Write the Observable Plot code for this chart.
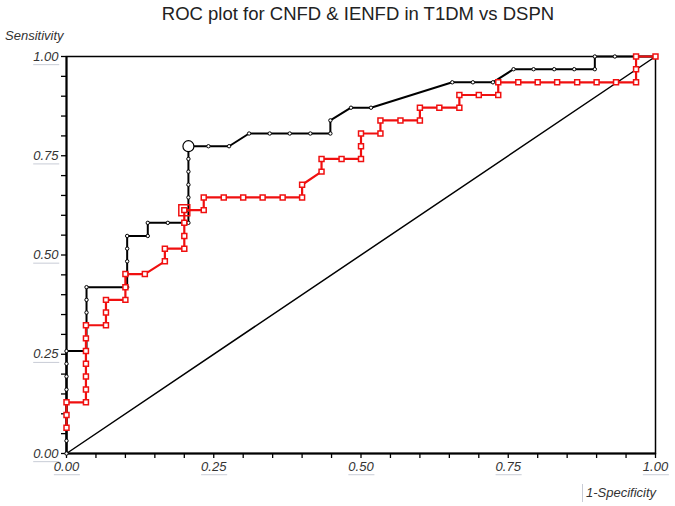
<!DOCTYPE html>
<html><head><meta charset="utf-8">
<script src="https://cdn.jsdelivr.net/npm/d3@7"></script>
<script src="https://cdn.jsdelivr.net/npm/@observablehq/plot@0.6"></script>
<style>
body{margin:0;background:#fff;}
#wrap{position:relative;width:675px;height:506px;overflow:hidden;font-family:"Liberation Sans",Arial,sans-serif;}
#title{position:absolute;top:3px;left:0;width:716px;text-align:center;font-size:18.5px;color:#222;white-space:nowrap;}
#ylab{position:absolute;left:5px;top:28px;font-size:13px;font-style:italic;color:#333;}
#xlab{position:absolute;left:582px;top:484px;font-size:13px;font-style:italic;color:#333;border-left:1px solid #c8ccd6;padding-left:3px;line-height:18px;}
#chart{position:absolute;left:0;top:0;}
</style></head>
<body>
<div id="wrap">
<div id="chart"></div>
<div id="title">ROC plot for CNFD &amp; IENFD in T1DM vs DSPN</div>
<div id="ylab">Sensitivity</div>
<div id="xlab">1-Specificity</div>
</div>
<script>
// CNFD (black) ROC points
const cnfdFpr = [0,0,0,0,0,0,0,0,0,
  0.034,0.034,0.034,0.034,0.034,0.034,
  0.103,0.103,0.103,0.103,0.103,
  0.138,0.138,
  0.172,0.207,
  0.207,0.207,0.207,0.207,0.207,0.207,
  0.241,0.276,
  0.310,0.345,0.379,0.414,0.448,
  0.448,
  0.483,0.517,
  0.655,0.690,0.724,
  0.759,0.793,0.828,0.862,0.897,
  0.897,0.931,0.966,1.000];
const cnfdTpr = [0,0.032,0.065,0.097,0.129,0.161,0.194,0.226,0.258,
  0.258,0.290,0.323,0.355,0.387,0.419,
  0.419,0.452,0.484,0.516,0.548,
  0.548,0.581,
  0.581,0.581,
  0.613,0.645,0.677,0.710,0.742,0.774,
  0.774,0.774,
  0.806,0.806,0.806,0.806,0.806,
  0.839,
  0.871,0.871,
  0.935,0.935,0.935,
  0.968,0.968,0.968,0.968,0.968,
  1.000,1.000,1.000,1.000];
// IENFD (red) ROC points
const ienfdFpr = [0,0,0,
  0.033,0.033,0.033,0.033,0.033,0.033,0.033,
  0.067,0.067,0.067,
  0.100,0.100,0.100,
  0.133,
  0.167,0.167,
  0.200,0.200,0.200,0.200,
  0.233,0.233,
  0.267,0.300,0.333,0.367,0.400,
  0.400,
  0.433,0.433,
  0.467,0.500,
  0.500,0.500,
  0.533,0.533,
  0.567,0.600,
  0.600,
  0.633,0.667,
  0.667,
  0.700,0.733,
  0.733,
  0.767,0.800,0.833,0.867,0.900,0.933,0.967,
  0.967,0.967,1.000];
const ienfdTpr = [0.065,0.097,0.129,
  0.129,0.161,0.194,0.226,0.258,0.290,0.323,
  0.323,0.355,0.387,
  0.387,0.419,0.452,
  0.452,
  0.484,0.516,
  0.516,0.548,0.581,0.613,
  0.613,0.645,
  0.645,0.645,0.645,0.645,0.645,
  0.677,
  0.710,0.742,
  0.742,0.742,
  0.774,0.806,
  0.806,0.839,
  0.839,0.839,
  0.871,
  0.871,0.871,
  0.903,
  0.903,0.903,
  0.935,
  0.935,0.935,0.935,0.935,0.935,0.935,0.935,
  0.968,1.000,1.000];
// optimal cut-off points
const cnfdCutFpr = [0.207], cnfdCutTpr = [0.774];
const ienfdCutFpr = [0.200], ienfdCutTpr = [0.613];
// chance line
const chanceVals = [0, 1];
// axis ticks
const axisTicks = [0,0.05,0.10,0.15,0.20,0.25,0.30,0.35,0.40,0.45,0.50,0.55,0.60,0.65,0.70,0.75,0.80,0.85,0.90,0.95,1.00];
const axisLabels = ["0.00","0.25","0.50","0.75","1.00"];

const RED = "#f01010";
const cnfd = cnfdFpr.map((x,i)=>({x, y: cnfdTpr[i]}));
const ienfd = ienfdFpr.map((x,i)=>({x, y: ienfdTpr[i]}));
const chance = chanceVals.map(v=>({x:v,y:v}));
const cnfdCut = cnfdCutFpr.map((x,i)=>({x,y:cnfdCutTpr[i]}));
const ienfdCut = ienfdCutFpr.map((x,i)=>({x,y:ienfdCutTpr[i]}));
const fmt = d => axisLabels.includes(d.toFixed(2)) ? d.toFixed(2) : "";

const plot = Plot.plot({
  width: 675, height: 506,
  marginLeft: 66, marginRight: 20, marginTop: 56, marginBottom: 53,
  style: {fontFamily: '"Liberation Sans", Arial, sans-serif', fontSize: "13px", background: "#fff"},
  x: {domain: [0,1]},
  y: {domain: [0,1]},
  marks: [
    Plot.frame({stroke: "#000", strokeWidth: 1.5}),
    Plot.axisY(axisTicks, {tickSize: 5, tickPadding: 3, tickFormat: fmt, label: null, fontStyle: "italic", fill: "#333", stroke: "#000", strokeWidth: 1.3}),
    Plot.axisX(axisTicks, {tickSize: 5, tickPadding: 3, tickFormat: fmt, label: null, fontStyle: "italic", fill: "#333", stroke: "#000", strokeWidth: 1.3}),
    Plot.line(chance, {x: "x", y: "y", stroke: "#000", strokeWidth: 1.5}),
    Plot.ruleX([0], {stroke: "#000", strokeWidth: 2}),
    Plot.ruleY([0], {stroke: "#000", strokeWidth: 2}),
    Plot.line(cnfd, {x: "x", y: "y", stroke: "#000", strokeWidth: 2}),
    Plot.dot(cnfd, {x: "x", y: "y", r: 1.7, fill: "#fff", stroke: "#000", strokeWidth: 1}),
    Plot.dot(cnfdCut, {x: "x", y: "y", r: 5.5, fill: "#fff", stroke: "#000", strokeWidth: 1.2}),
    Plot.line(ienfd, {x: "x", y: "y", stroke: RED, strokeWidth: 2.2}),
    Plot.dot(ienfd, {x: "x", y: "y", symbol: "square", r: 2.8, fill: "#fff", stroke: RED, strokeWidth: 1.5}),
    Plot.dot(ienfdCut, {x: "x", y: "y", symbol: "square", r: 6.2, fill: "none", stroke: RED, strokeWidth: 1.5})
  ]
});
document.getElementById("chart").appendChild(plot);
// faint underline under each axis label
const svg = d3.select(plot);
svg.selectAll('g[aria-label$="tick label"] text').each(function(){
  const t = this.textContent;
  if (!t) return;
  const b = this.getBBox();
  const ctm = this.getAttribute("transform");
  const g = d3.select(this.parentNode);
  g.append("line")
    .attr("transform", ctm)
    .attr("x1", b.x).attr("x2", b.x + b.width)
    .attr("y1", b.y + b.height + 1).attr("y2", b.y + b.height + 1)
    .attr("stroke", "#c8ccd6").attr("stroke-width", 1).attr("fill","none");
});
</script>
</body></html>
